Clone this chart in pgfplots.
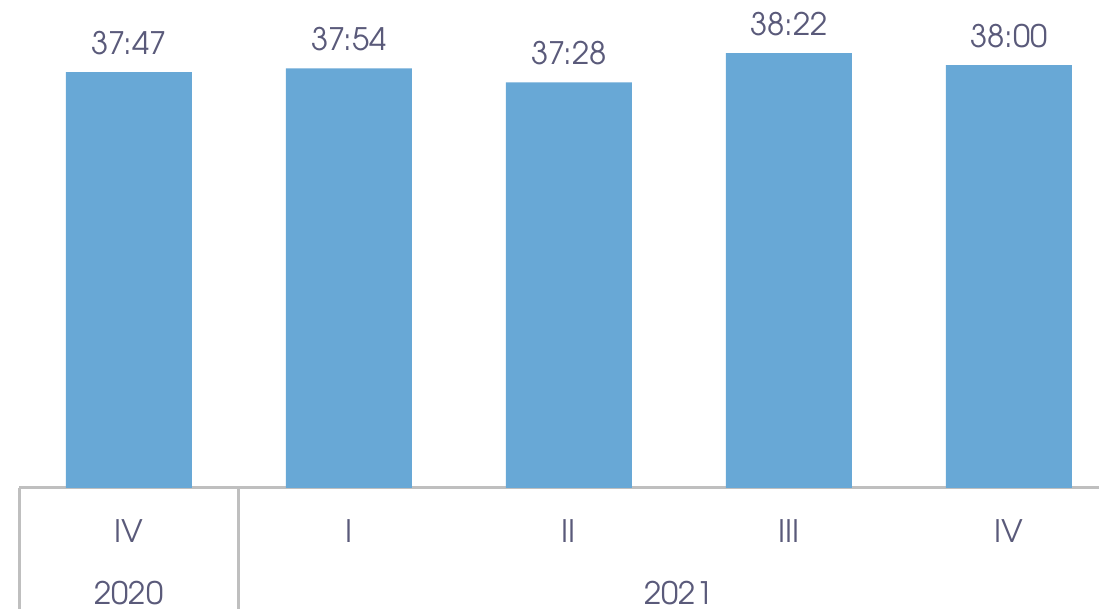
\documentclass[border=0pt]{standalone}
\usepackage{pgfplots}
\pgfplotsset{compat=1.18}
\usepackage{pgfplotstable}
\usepackage{fontspec}
\setmainfont{TeX Gyre Adventor}
\definecolor{barblue}{RGB}{104,168,214}
\definecolor{txt}{RGB}{90,90,122}
\definecolor{axgray}{RGB}{191,191,191}
\pgfplotstableread{
x y lab
0 2267 37:47
1 2274 37:54
2 2248 37:28
3 2302 38:22
4 2280 38:00
}\data
\begin{document}
\begin{tikzpicture}[x=1pt,y=1pt]
\useasboundingbox (0,0) rectangle (1099,609);
\begin{axis}[
 at={(19pt,121pt)}, anchor=south west,
 scale only axis, width=1100pt, height=488pt,
 xmin=-0.5, xmax=4.5, ymin=1500, ymax=2400,
 axis x line*=bottom, axis y line=none,
 x axis line style={axgray, line width=3pt},
 xtick={0,...,4}, xticklabels={IV,I,II,III,IV}, major tick length=0,
 xticklabel style={anchor=center, yshift=-43pt, text=txt, font=\fontsize{31}{37}\selectfont},
 ytick=\empty,
 ybar, bar width=126pt,
 clip=false,
 nodes near coords, point meta=explicit symbolic,
 every node near coord/.append style={anchor=base, yshift=18pt, text=txt, font=\fontsize{31}{37}\selectfont},
]
\addplot[fill=barblue, draw=none] table[x=x,y=y,meta=lab]{\data};
\draw[axgray, line width=3pt] (axis cs:-0.5,1500) -- ++(0pt,-121pt);
\draw[axgray, line width=3pt] (axis cs:0.5,1500) -- ++(0pt,-121pt);
\node[anchor=center, yshift=-105pt, text=txt, font=\fontsize{31}{37}\selectfont] at (axis cs:0,1500) {2020};
\node[anchor=center, yshift=-105pt, text=txt, font=\fontsize{31}{37}\selectfont] at (axis cs:2.5,1500) {2021};
\end{axis}
\end{tikzpicture}
\end{document}
